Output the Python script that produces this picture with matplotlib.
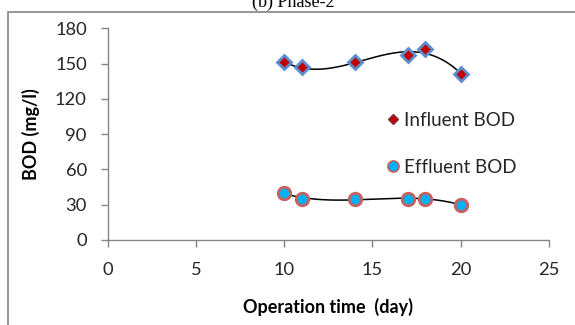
import numpy as np
import matplotlib
matplotlib.use("Agg")
import matplotlib.pyplot as plt
from matplotlib.patches import Rectangle

plt.rcParams['font.family'] = ['Lato', 'DejaVu Sans']

days = [10, 11, 14, 17, 18, 20]
influent = [151, 147, 151, 157, 162, 141]
effluent = [40, 35, 35, 35, 35, 30]
x_ticks = [0, 5, 10, 15, 20, 25]
y_ticks = [0, 30, 60, 90, 120, 150, 180]
title = "(b) Phase-2"
xlabel = "Operation time  (day)"
ylabel = "BOD (mg/l)"
labels = ["Influent BOD", "Effluent BOD"]

W, H = 575, 325
fig = plt.figure(figsize=(W / 100, H / 100), dpi=100)
ax = fig.add_axes([107.7 / W, 1 - 240 / H, (549 - 107.7) / W, (240 - 28.3) / H])

grey = '#868686'
# outer chart frame
fig.patches.append(Rectangle((7.5 / W, -0.1), 1.2, 1 - 12 / H + 0.1, transform=fig.transFigure,
                             fill=False, edgecolor='#8c8c8c', linewidth=1.3, zorder=0))
fig.text(293 / W, 1 - 7 / H, title, ha='center', va='baseline',
         family='Liberation Serif', fontsize=13, color='black')

# trendlines (polynomial, order 3)
xs = np.linspace(min(days), max(days), 200)
for series in (influent, effluent):
    coef = np.polyfit(days, series, 3)
    ax.plot(xs, np.polyval(coef, xs), color='black', linewidth=1.1, zorder=2)

h1 = ax.plot(days, influent, linestyle='none', marker='D', markersize=7.5,
             markerfacecolor='#C00000', markeredgecolor='#5B8DD0', markeredgewidth=2.0,
             label=labels[0], zorder=3)[0]
h2 = ax.plot(days, effluent, linestyle='none', marker='o', markersize=9,
             markerfacecolor='#00B0F0', markeredgecolor='#C86060', markeredgewidth=2.0,
             label=labels[1], zorder=3)[0]

ax.set_xlim(0, 25)
ax.set_ylim(0, 180)
ax.set_xticks(x_ticks)
ax.set_yticks(y_ticks)
ax.tick_params(axis='both', direction='out', length=5, width=1, color=grey,
               labelsize=13.2, labelcolor='#262626')
ax.tick_params(axis='y', pad=10)
ax.tick_params(axis='x', pad=11)
for s in ('top', 'right'):
    ax.spines[s].set_visible(False)
for s in ('left', 'bottom'):
    ax.spines[s].set_color(grey)
    ax.spines[s].set_linewidth(1)
ax.patch.set_alpha(0)

ax.set_xlabel(xlabel, fontsize=13, fontweight='bold', labelpad=14)
ax.set_ylabel(ylabel, fontsize=13, fontweight='bold', labelpad=11)

leg = ax.legend(handles=[h1, h2], loc='upper left', bbox_to_anchor=(378 / W, 1 - 102.5 / H),
                bbox_transform=fig.transFigure, frameon=False, fontsize=13.5,
                handlelength=0.6, handletextpad=0.3, labelspacing=1.6, borderpad=0,
                labelcolor='#262626')
lh = leg.legend_handles
lh[0].set_markersize(5.5)
lh[0].set_markeredgewidth(1.0)
lh[0].set_markeredgecolor('#7F3050')
lh[1].set_markersize(8)
lh[1].set_markeredgewidth(1.2)

fig.savefig('out.png', dpi=100)
